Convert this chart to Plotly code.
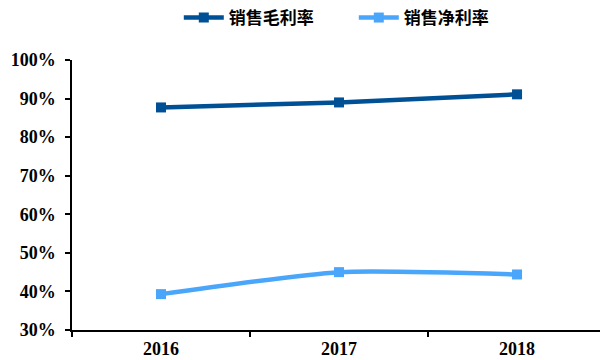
import plotly.graph_objects as go

years = ["2016", "2017", "2018"]
gross_margin = [0.877, 0.890, 0.911]
net_margin = [0.393, 0.450, 0.444]
series_names = ["销售毛利率", "销售净利率"]

fig = go.Figure()
fig.add_trace(go.Scatter(
    x=years, y=gross_margin, name=series_names[0], mode="lines+markers",
    line=dict(color="#005096", width=4.5, shape="spline", smoothing=0.6),
    marker=dict(symbol="square", size=10, color="#005096"),
))
fig.add_trace(go.Scatter(
    x=years, y=net_margin, name=series_names[1], mode="lines+markers",
    line=dict(color="#4AA6FA", width=4.5, shape="spline", smoothing=0.6),
    marker=dict(symbol="square", size=10, color="#4AA6FA"),
))

fig.update_layout(
    width=600, height=360,
    margin=dict(l=72, r=0, t=60, b=30, autoexpand=False),
    plot_bgcolor="white", paper_bgcolor="white",
    showlegend=True,
    legend=dict(orientation="h", x=0.298, xanchor="left", xref="container",
                y=0.95, yanchor="middle", yref="container",
                font=dict(family="Noto Sans CJK SC", size=17, color="black", weight="bold"),
                entrywidth=120, entrywidthmode="pixels", itemwidth=40, tracegroupgap=0),
    font=dict(family="Liberation Serif", color="black"),
)
fig.update_xaxes(
    type="category", range=[-0.5, 2.466], automargin=False,
    showline=True, linecolor="black", linewidth=1.5,
    ticks="outside", tickson="boundaries", ticklen=5, tickcolor="black", tickwidth=1.5,
    showgrid=False, zeroline=False,
    tickfont=dict(family="Liberation Serif", size=18, color="black", weight="bold"),
    ticklabelstandoff=2,
)
fig.update_yaxes(
    range=[0.3, 1.0], dtick=0.1, tickformat=".0%", automargin=False,
    showline=True, linecolor="black", linewidth=1.5,
    ticks="outside", ticklen=5, tickcolor="black", tickwidth=1.5,
    showgrid=False, zeroline=False,
    tickfont=dict(family="Liberation Serif", size=18, color="black", weight="bold"),
    ticklabelstandoff=6,
)

fig.write_html("out.html", config={"displayModeBar": False},
               post_script="document.body.style.margin='0';")
